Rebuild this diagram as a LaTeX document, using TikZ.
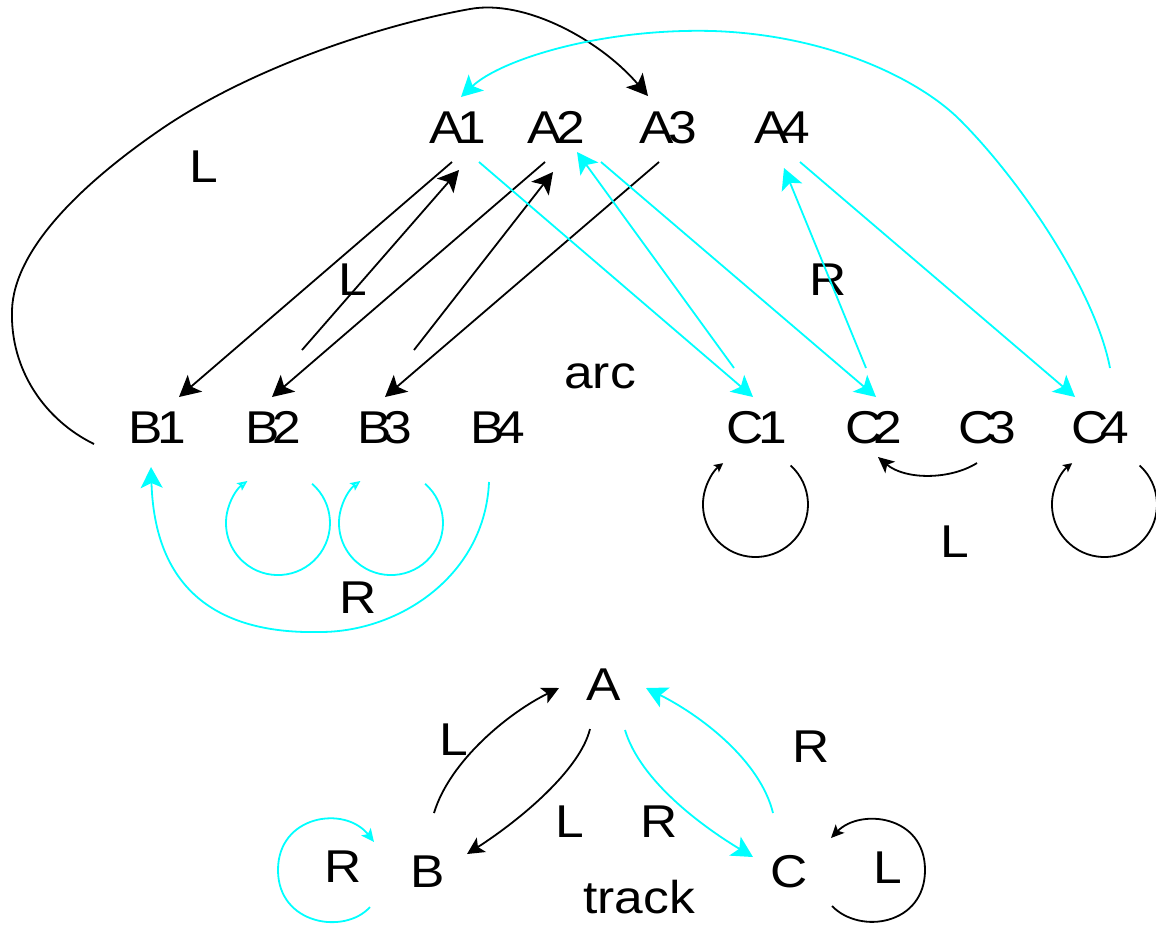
\documentclass[tikz,border=0pt]{standalone}
\usepackage{fontspec}
\setmainfont{Liberation Sans}[FakeStretch=1.12]
\usetikzlibrary{arrows.meta}
\definecolor{gvcyan}{RGB}{0,255,255}
\begin{document}
\begin{tikzpicture}[x=0.5pt,y=-0.5pt,
  txt/.style={inner sep=0pt,anchor=base,font=\fontsize{23}{27}\selectfont},
  ln/.style={line width=0.9pt},
  blk/.style={ln,draw=black},
  cyn/.style={ln,draw=gvcyan},
  hbig/.style={-{Stealth[length=10.5pt,width=11pt,inset=2.5pt]}},
  htrk/.style={-{Stealth[length=8.5pt,width=8.5pt,inset=2pt]}},
  hmid/.style={-{Stealth[length=8pt,width=7.5pt,inset=2pt]}},
  hsmall/.style={-{Stealth[length=4.5pt,width=4.5pt,inset=1pt]}},
  hopen/.style={-{Stealth[open,length=5pt,width=4.5pt,inset=1pt]}},
  hloop/.style={-{Stealth[length=6.5pt,width=6pt,inset=1.5pt]}}]
\useasboundingbox (0,0) rectangle (1156,928);
% arc graph nodes
\node[txt] (A1) at (458,143) {A\kern-3pt 1};
\node[txt] (A2) at (556,143) {A\kern-2.6pt 2};
\node[txt] (A3) at (668,143) {A\kern-2.6pt 3};
\node[txt] (A4) at (782,143) {A\kern-3.5pt 4};
\node[txt] (B1) at (157,443) {B\kern-2.6pt 1};
\node[txt] (B2) at (273,443) {B\kern-3.7pt 2};
\node[txt] (B3) at (385,443) {B\kern-4.2pt 3};
\node[txt] (B4) at (498,443) {B\kern-4.2pt 4};
\node[txt] (C1) at (757,443) {C\kern-2.7pt 1};
\node[txt] (C2) at (874,443) {C\kern-4.7pt 2};
\node[txt] (C3) at (987,443) {C\kern-4.2pt 3};
\node[txt] (C4) at (1100,443) {C\kern-4.2pt 4};
\node[txt] (lL1) at (204,182) {L};
\node[txt] (lL2) at (353,295) {L};
\node[txt] (larc) at (600,388) {arc};
\node[txt] (lR1) at (828,295) {R};
\node[txt] (lR2) at (358,613) {R};
\node[txt] (lL3) at (955,557) {L};
% track graph nodes
\node[txt] (A) at (604,700) {A};
\node[txt] (B) at (428,887) {B};
\node[txt] (C) at (789,887) {C};
\node[txt] (ltrack) at (639,913) {track};
\node[txt] (tL1) at (454,755) {L};
\node[txt] (tL2) at (570,837) {L};
\node[txt] (tR1) at (659,837) {R};
\node[txt] (tR2) at (811,762) {R};
\node[txt] (tR3) at (343,882) {R};
\node[txt] (tL3) at (888,883) {L};
% black arc edges
\draw[blk,hbig] ([shift={(-6,19)}]A1.base) -- ([shift={(22,-46)}]B1.base);
\draw[blk,hbig] ([shift={(29,-93)}]B2.base) -- ([shift={(1,27)}]A1.base);
\draw[blk,hbig] ([shift={(-11,19)}]A2.base) -- ([shift={(-1,-46)}]B2.base);
\draw[blk,hbig] ([shift={(29,-93)}]B3.base) -- ([shift={(-3,29)}]A2.base);
\draw[blk,hbig] ([shift={(-9,19)}]A3.base) -- ([shift={(0,-46)}]B3.base);
\draw[blk,hbig] ([shift={(-63,1)}]B1.base) .. controls (45,420) and (10,370) .. (12,310)
  .. controls (14,250) and (80,185) .. (160,130)
  .. controls (250,68) and (380,25) .. (470,9)
  .. controls (525,-1) and (600,40) .. ([shift={(-20,-47)}]A3.base);
% cyan arc edges
\draw[cyn,hbig] ([shift={(21,19)}]A1.base) -- ([shift={(-4,-46)}]C1.base);
\draw[cyn,hbig] ([shift={(-23,-75)}]C1.base) -- ([shift={(21,9)}]A2.base);
\draw[cyn,hbig] ([shift={(45,19)}]A2.base) -- ([shift={(2,-46)}]C2.base);
\draw[cyn,hbig] ([shift={(-8,-75)}]C2.base) -- ([shift={(2,25)}]A4.base);
\draw[cyn,hbig] ([shift={(18,19)}]A4.base) -- ([shift={(-25,-46)}]C4.base);
\draw[cyn,hbig] ([shift={(10,-75)}]C4.base) .. controls (1095,290) and (1020,180) .. (960,120)
  .. controls (920,80) and (830,35) .. (713,31)
  .. controls (600,28) and (500,60) .. ([shift={(3,-46)}]A1.base);
\draw[cyn,hbig] ([shift={(-9,39)}]B4.base) .. controls (485,575) and (400,632) .. (320,632)
  .. controls (230,634) and (155,600) .. ([shift={(-6,24)}]B1.base);
% loops
\draw[cyn,hopen] ([shift={(39.1,40.8)}]B2.base) arc[start angle=-49,end angle=234,radius=52];
\draw[cyn,hopen] ([shift={(40.1,40.8)}]B3.base) arc[start angle=-49,end angle=234,radius=52];
\draw[blk,hsmall] ([shift={(33.6,22.5)}]C1.base) arc[start angle=-48,end angle=232,radius=52.5];
\draw[blk,hsmall] ([shift={(39.6,22.5)}]C4.base) arc[start angle=-48,end angle=232,radius=52.5];
\draw[blk,hmid] ([shift={(-10,20)}]C3.base) .. controls (950,480) and (905,480) .. ([shift={(4,14)}]C2.base);
% track edges
\draw[blk,htrk] ([shift={(6,-74)}]B.base) .. controls (450,760) and (510,712) .. ([shift={(-45,-12)}]A.base);
\draw[blk,htrk] ([shift={(-14,29)}]A.base) .. controls (580,770) and (520,820) .. ([shift={(39,-33)}]B.base);
\draw[cyn,hbig] ([shift={(21,30)}]A.base) .. controls (640,780) and (700,825) .. ([shift={(-36,-30)}]C.base);
\draw[cyn,hbig] ([shift={(-16,-74)}]C.base) .. controls (760,760) and (700,715) .. ([shift={(42,-12)}]A.base);
\draw[cyn,hloop] ([shift={(-58,20)}]B.base) .. controls (345,935) and (278,925) .. (278,870)
  .. controls (278,815) and (345,805) .. ([shift={(-54,-45)}]B.base);
\draw[blk,hloop] ([shift={(43,19)}]C.base) .. controls (860,935) and (925,925) .. (925,870)
  .. controls (925,815) and (860,808) .. ([shift={(42,-49)}]C.base);
\end{tikzpicture}
\end{document}
